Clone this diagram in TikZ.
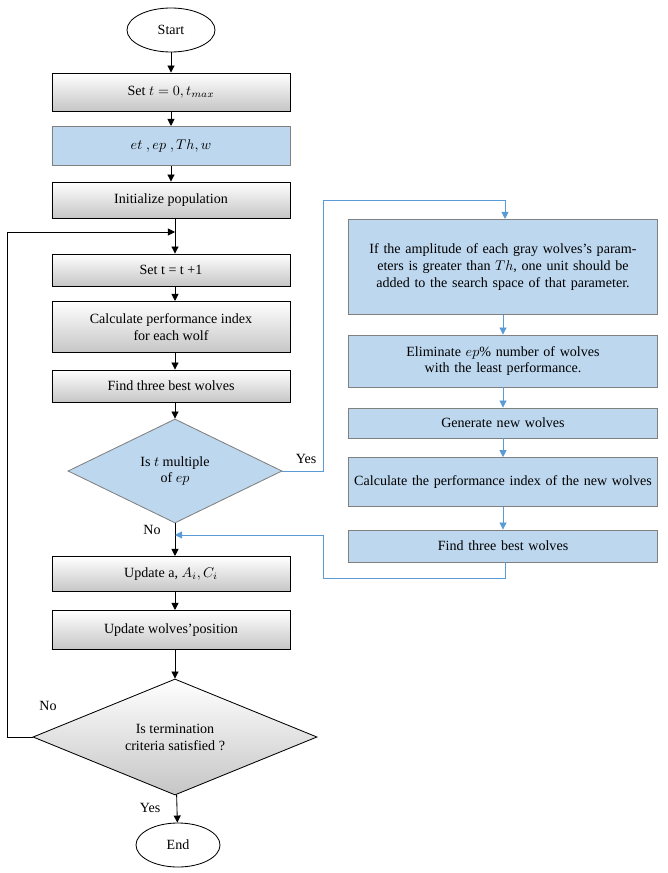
\documentclass[tikz,border=0pt]{standalone}
\usepackage{amsmath}
\usepackage{fontspec}
\setmainfont{Liberation Serif}
\usetikzlibrary{shapes.geometric,arrows.meta}
\definecolor{boxblue}{RGB}{189,215,238}
\definecolor{lineblue}{RGB}{91,155,213}
\begin{document}
\begin{tikzpicture}[x=0.025cm, y=-0.025cm, line width = 0.6pt,
		font = \fontsize{10}{12}\selectfont,
		>={Triangle[length=5pt,width=5pt]},
		terminal/.style = {ellipse, draw, fill = white, minimum width = 2.2cm,
		minimum height = 1.1cm},
		proc/.style = {rectangle, draw, top color = white, bottom color =
		gray!45, minimum width = 5.95cm, align = center},
		bproc/.style = {rectangle, draw = gray, fill = boxblue, text width =
		7.5cm, align = center},
		gdec/.style = {diamond, draw, top color = white, bottom color =
		gray!45, aspect = 2.5, align = center, inner sep = 0pt},
		bdec/.style = {diamond, draw = gray, fill = boxblue, aspect = 2.06,
		align = center, inner sep = 0pt},
		]
	\useasboundingbox (0,0) rectangle (668,873);

	\node [terminal] (start) at (171,30) {Start};
	\node [proc, minimum height = 0.95cm] (init_t) at (171,92) {Set $t=0, t_{max}$};
	\node [proc, top color = boxblue, bottom color = boxblue,
	draw = gray, minimum height = 0.98cm] (param) at (171,146)
	{$et\;, ep\;, Th, w$};
	\node [proc, minimum height = 0.9cm] (pop) at (171,200) {Initialize population};
	\coordinate (join) at (175,232);
	\node [proc, minimum height = 0.8cm] (inc) at (171,270) {Set t = t +1};
	\node [proc, minimum height = 1.28cm] (perf) at (171,327)
	{Calculate performance index\\for each wolf};
	\node [proc, minimum height = 0.8cm] (best) at (171,386) {Find three best wolves};
	\node [bdec, minimum width = 5.35cm, minimum height = 2.6cm] (mult) at (175,471)
	{Is $t$ multiple\\of $ep$};
	\coordinate (back) at (175,535);
	\node [proc, minimum height = 0.88cm] (upd) at (171,574) {Update a, $A_i, C_i$};
	\node [proc, minimum height = 0.98cm] (pos) at (171,630) {Update wolves'position};
	\node [gdec, minimum width = 7.1cm, minimum height = 2.9cm] (check) at (175,737)
	{Is termination\\criteria satisfied ?};
	\node [terminal, minimum width = 2.1cm] (end) at (178,845) {End};

	\node [bproc, minimum height = 2.38cm] (amp) at (503,267)
	{If the amplitude of each gray wolves's parameters is greater than $Th$,
	one unit should be added to the search space of that parameter.};
	\node [bproc, minimum height = 1.3cm] (elim) at (503,361)
	{Eliminate $ep$\% number of wolves with the least performance.};
	\node [bproc, minimum height = 0.75cm] (gen) at (503,423) {Generate new wolves};
	\node [bproc, minimum height = 1.22cm] (newperf) at (503,482)
	{Calculate the performance index of the new wolves};
	\node [bproc, minimum height = 0.8cm] (newbest) at (503,546) {Find three best wolves};

	\draw [->] (start) -- (init_t);
	\draw [->] (init_t) -- (param);
	\draw [->] (param) -- (pop);
	\draw (pop.south -| join) -- (join);
	\draw [->] (join) -- (inc.north -| join);
	\draw [->] (inc.south -| join) -- (perf.north -| join);
	\draw [->] (perf.south -| join) -- (best.north -| join);
	\draw [->] (best.south -| join) -- (mult);
	\draw (mult) -- (back);
	\draw [->] (back) -- (upd.north -| back);
	\draw [->] (upd.south -| back) -- (pos.north -| back);
	\draw [->] (pos.south -| back) -- (check);
	\draw [->] (check) -- (end);
	\draw [->] (check.west) -- (7,737) -- (7,232) -- (join);

	\draw [->, lineblue] (mult.east) -- (323,471) -- (323,200) -- (505,200)
	-- (amp.north -| 505,0);
	\draw [->, lineblue] (amp) -- (elim);
	\draw [->, lineblue] (elim) -- (gen);
	\draw [->, lineblue] (gen) -- (newperf);
	\draw [->, lineblue] (newperf) -- (newbest);
	\draw [->, lineblue] (newbest.south -| 505,0) -- (505,578) -- (323,578)
	-- (323,535) -- (back);

	\node at (306,459) {Yes};
	\node at (152,530) {No};
	\node at (48,706) {No};
	\node at (150,808) {Yes};
\end{tikzpicture}
\end{document}
